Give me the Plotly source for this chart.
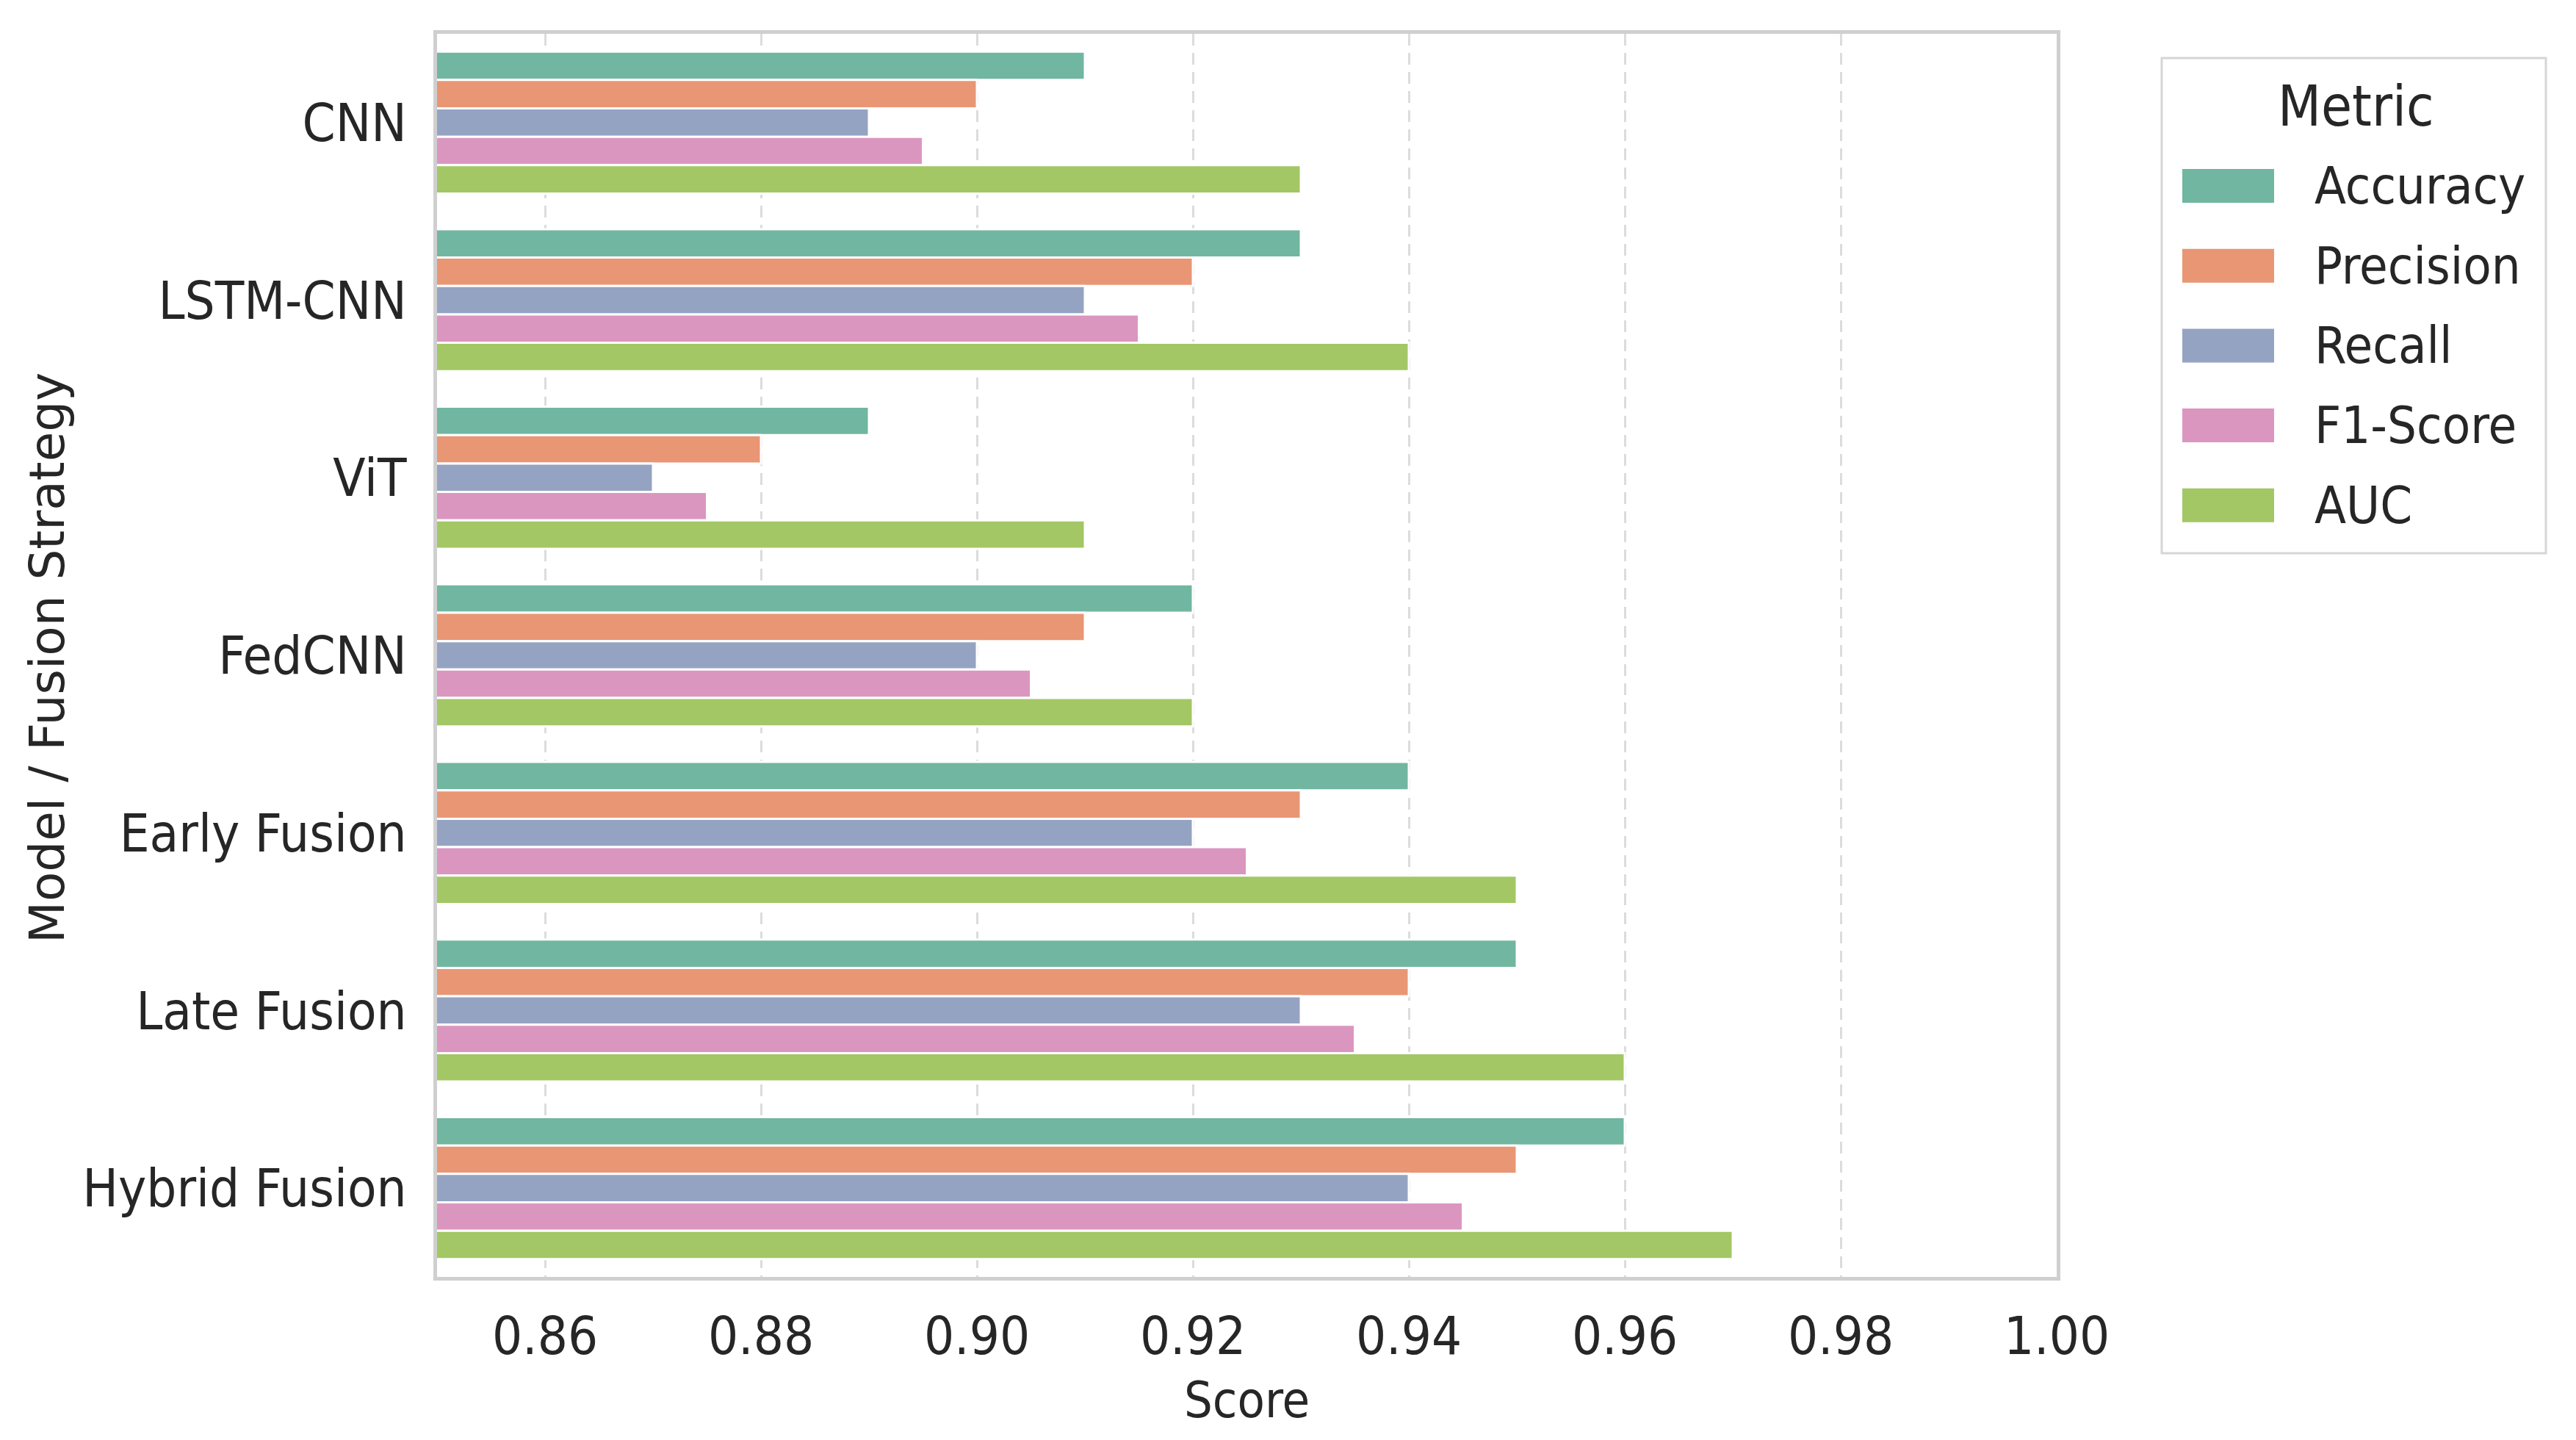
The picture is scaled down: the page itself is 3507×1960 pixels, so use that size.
import plotly.graph_objects as go

# ---------------- data ----------------
models = ["CNN", "LSTM-CNN", "ViT", "FedCNN", "Early Fusion", "Late Fusion", "Hybrid Fusion"]
metrics = ["Accuracy", "Precision", "Recall", "F1-Score", "AUC"]
accuracy = [0.91, 0.93, 0.89, 0.92, 0.94, 0.95, 0.96]
precision = [0.90, 0.92, 0.88, 0.91, 0.93, 0.94, 0.95]
recall = [0.89, 0.91, 0.87, 0.90, 0.92, 0.93, 0.94]
f1_score = [0.895, 0.915, 0.875, 0.905, 0.925, 0.935, 0.945]
auc = [0.93, 0.94, 0.91, 0.92, 0.95, 0.96, 0.97]
x_ticks = [0.86, 0.88, 0.90, 0.92, 0.94, 0.96, 0.98, 1.00]
x_tick_labels = ["0.86", "0.88", "0.90", "0.92", "0.94", "0.96", "0.98", "1.00"]
x_title = "Score"
y_title = "Model / Fusion Strategy"
legend_title = "Metric"

series = [accuracy, precision, recall, f1_score, auc]
colors = ["#71b6a0", "#e99675", "#95a3c3", "#db96c0", "#a2c764"]

# ---------------- geometry (pixels) ----------------
W, H = 3507, 1960
PL, PR, PT, PB = 587, 2792, 38, 1730
TXT = "#262626"
COND = "DejaVu Sans Condensed, DejaVu Sans, sans-serif"
NORM = "DejaVu Sans, sans-serif"


def px(xp):
    return (xp - PL) / (PR - PL)


def py(yp):
    return (PB - yp) / (PB - PT)


fig = go.Figure()
for name, vals, col in zip(metrics, series, colors):
    fig.add_trace(go.Bar(
        y=models, x=vals, name=name, orientation="h",
        marker=dict(color=col, line=dict(color="white", width=3)),
        showlegend=False,
    ))

shapes = []
annotations = []

# legend box
shapes.append(dict(type="rect", xref="paper", yref="paper",
                   x0=px(2935), x1=px(3458), y0=py(71), y1=py(745),
                   line=dict(color="#d6d6d6", width=3), fillcolor="white", layer="above"))
annotations.append(dict(text=legend_title, xref="paper", yref="paper",
                        x=px(3199), y=py(136), xanchor="center", yanchor="middle",
                        showarrow=False, font=dict(family=COND, size=76, color=TXT)))
row0, step = 245, 108.7
for i, (name, col) in enumerate(zip(metrics, colors)):
    cy = row0 + i * step
    shapes.append(dict(type="rect", xref="paper", yref="paper",
                       x0=px(2963), x1=px(3088), y0=py(cy - 23), y1=py(cy + 23),
                       line=dict(width=0), fillcolor=col, layer="above"))
    annotations.append(dict(text=name, xref="paper", yref="paper",
                            x=px(3141), y=py(cy), xanchor="left", yanchor="middle",
                            showarrow=False, font=dict(family=COND, size=70, color=TXT)))

# axis titles
annotations.append(dict(text=x_title, xref="paper", yref="paper",
                        x=0.5, y=py(1897), xanchor="center", yanchor="middle",
                        showarrow=False, font=dict(family=COND, size=68, color=TXT)))
annotations.append(dict(text=y_title, xref="paper", yref="paper",
                        x=px(56), y=py(888), xanchor="center", yanchor="middle",
                        textangle=-90, showarrow=False,
                        font=dict(family=NORM, size=66, color=TXT)))

fig.update_layout(
    width=W, height=H, autosize=False,
    margin=dict(l=PL, r=W - PR, t=PT, b=H - PB, pad=0),
    paper_bgcolor="white", plot_bgcolor="white",
    barmode="group", bargap=0.2, bargroupgap=0,
    shapes=shapes, annotations=annotations,
    showlegend=False,
)
fig.update_xaxes(
    range=[0.85, 1.0], tickvals=x_ticks, ticktext=x_tick_labels,
    showgrid=True, gridcolor="#dcdcdc", gridwidth=3, griddash="16px,10px",
    showline=True, linecolor="#cfcfcf", linewidth=5, mirror=True,
    ticks="", ticklabelstandoff=14,
    tickfont=dict(family=COND, size=72, color=TXT), zeroline=False,
)
fig.update_yaxes(
    categoryorder="array", categoryarray=models, range=[6.5, -0.5],
    showgrid=False,
    showline=True, linecolor="#cfcfcf", linewidth=5, mirror=True,
    ticks="outside", ticklen=22, tickcolor="rgba(0,0,0,0)",
    tickfont=dict(family=COND, size=72, color=TXT), zeroline=False,
)

fig.write_html("out.html")
